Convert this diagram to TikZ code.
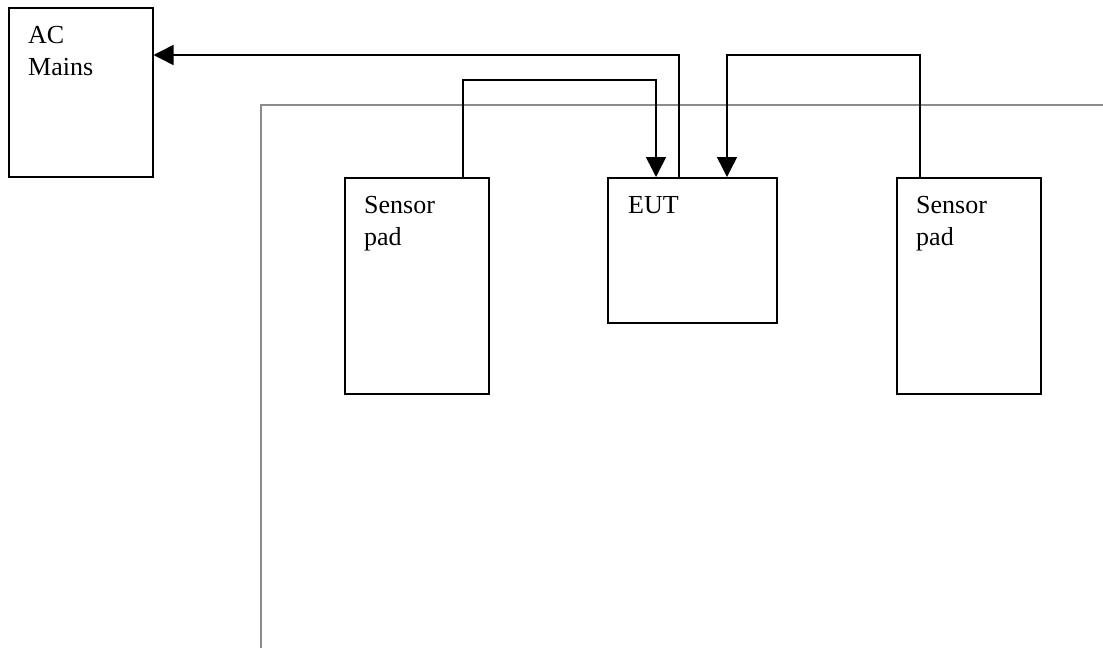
\documentclass[tikz,border=0pt]{standalone}
\usepackage{fontspec}
\setmainfont{Liberation Serif}
\usetikzlibrary{arrows.meta,calc}
\newcommand{\lines}[1]{\begin{tabular}[t]{@{}l@{}}#1\end{tabular}}
\tikzset{
  box/.style={draw=black,line width=1.5pt,fill=white,inner sep=0pt,anchor=north west},
  lbl/.style={anchor=base west,inner sep=0pt,font=\fontsize{26}{32}\selectfont},
  conn/.style={draw=black,line width=1.5pt},
  tip/.style={-{Triangle[length=20pt,width=20pt]}},
  plane/.style={draw=gray!90,line width=1.2pt}
}
\begin{document}
\begin{tikzpicture}[x=1pt,y=-1pt]
\useasboundingbox (0,0) rectangle (1103,648);
% ground plane outline
\draw[plane] (261,648) -- (261,105) -- (1103,105);
% boxes
\node[box,minimum width=144pt,minimum height=169pt] (ac) at (8,7) {};
\node[box,minimum width=144pt,minimum height=216pt] (spl) at (344,177) {};
\node[box,minimum width=169pt,minimum height=145pt] (eut) at (607,177) {};
\node[box,minimum width=144pt,minimum height=216pt] (spr) at (896,177) {};
% labels
\node[lbl] (actxt) at ($(ac.north west)+(20,36)$) {\lines{AC\\Mains}};
\node[lbl] (spltxt) at ($(spl.north west)+(20,36)$) {\lines{Sensor\\pad}};
\node[lbl] (euttxt) at ($(eut.north west)+(21,36)$) {EUT};
\node[lbl] (sprtxt) at ($(spr.north west)+(20,36)$) {\lines{Sensor\\pad}};
% connection points
\coordinate (splout) at ($(spl.north west)+(119,0)$);
\coordinate (eutinl) at ($(eut.north west)+(49,0)$);
\coordinate (eutout) at ($(eut.north west)+(72,0)$);
\coordinate (eutinr) at ($(eut.north west)+(120,0)$);
\coordinate (sprout) at ($(spr.north west)+(24,0)$);
\coordinate (acin) at ($(ac.north east)+(0,48)$);
% connectors
\draw[conn,tip] (splout) -- ++(0,-97) -| (eutinl);
\draw[conn,tip] (eutout) |- (acin);
\draw[conn,tip] (sprout) |- ($(acin -| eutinr)$) -- (eutinr);
\end{tikzpicture}
\end{document}
